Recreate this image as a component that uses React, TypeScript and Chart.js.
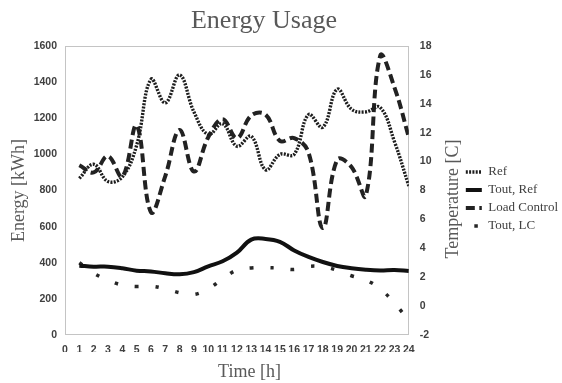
import React, { useEffect, useRef } from 'react';
import { Chart, registerables } from 'chart.js';

Chart.register(...registerables);

const hours = [1, 2, 3, 4, 5, 6, 7, 8, 9, 10, 11, 12, 13, 14, 15, 16, 17, 18, 19, 20, 21, 22, 23, 24];

const refEnergy = [867, 945, 850, 875, 1050, 1415, 1285, 1440, 1235, 1110, 1170, 1045, 1100, 915, 1000, 1000, 1220, 1150, 1360, 1250, 1235, 1260, 1070, 825];
const loadControlEnergy = [940, 900, 990, 877, 1160, 680, 880, 1135, 905, 1095, 1195, 1090, 1215, 1220, 1075, 1090, 1010, 592, 970, 930, 772, 1545, 1370, 1095];
const toutRef = [2.8, 2.73, 2.73, 2.62, 2.45, 2.4, 2.27, 2.2, 2.35, 2.75, 3.1, 3.7, 4.6, 4.65, 4.45, 3.85, 3.4, 3.05, 2.78, 2.62, 2.52, 2.47, 2.5, 2.43];
const toutLC = [3.0, 2.28, 1.8, 1.45, 1.35, 1.38, 1.2, 0.93, 0.8, 1.2, 1.87, 2.5, 2.64, 2.66, 2.62, 2.53, 2.75, 2.72, 2.48, 2.1, 1.8, 1.2, 0.2, -1.0];

const seriesLabels = ['Ref', 'Tout, Ref', 'Load Control', 'Tout, LC'];
const chartTitle = 'Energy Usage';
const xTitle = 'Time [h]';
const yTitle = 'Energy [kWh]';
const y1Title = 'Temperature [C]';

const energyRange = [0, 1600, 200];
const tempRange = [-2, 18, 2];
const hourRange = [0, 24, 1];

const SERIF = '"Liberation Serif", "Times New Roman", serif';
const SANS = '"Liberation Sans", Arial, sans-serif';

export default function App() {
  const canvasRef = useRef<HTMLCanvasElement>(null);

  useEffect(() => {
    const canvas = canvasRef.current;
    if (!canvas) return;
    const pts = (vals: number[]) => hours.map((h, i) => ({ x: h, y: vals[i] }));
    const plain = (v: any) => String(v);
    const legendDashOffsets = [0, 0, 0, 12];

    const extraText = {
      id: 'extraText',
      beforeDatasetsDraw(chart: any) {
        const { ctx, chartArea } = chart;
        ctx.save();
        ctx.strokeStyle = '#c4c4c4';
        ctx.lineWidth = 1;
        const l = Math.round(chartArea.left) + 0.5;
        const t = Math.round(chartArea.top) + 0.5;
        const r = Math.round(chartArea.right) - 0.5;
        const b = Math.round(chartArea.bottom) - 0.5;
        ctx.strokeRect(l, t, r - l, b - t);
        ctx.restore();
      },
      afterDraw(chart: any) {
        const { ctx } = chart;
        ctx.save();
        ctx.fillStyle = '#595959';
        ctx.textAlign = 'center';
        ctx.textBaseline = 'alphabetic';
        ctx.font = `26px ${SERIF}`;
        ctx.fillText(chartTitle, 264, 28);
        ctx.font = `18px ${SERIF}`;
        ctx.fillText(xTitle, 249.5, 377);
        ctx.translate(458, 199);
        ctx.rotate(-Math.PI / 2);
        ctx.fillText(y1Title, 0, 0);
        ctx.restore();
      },
    };

    const tickFont = { family: SANS, size: 10.5, weight: 'bold' };

    const chart = new Chart(canvas, {
      type: 'line',
      data: {
        datasets: [
          {
            label: seriesLabels[0],
            data: pts(refEnergy),
            yAxisID: 'y',
            borderColor: '#1e1e1e',
            borderWidth: 3.4,
            borderDash: [2, 1.3],
            tension: 0.4,
            pointRadius: 0,
            fill: false,
          },
          {
            label: seriesLabels[1],
            data: pts(toutRef),
            yAxisID: 'y1',
            borderColor: '#111111',
            borderWidth: 4,
            tension: 0.4,
            pointRadius: 0,
            fill: false,
          },
          {
            label: seriesLabels[2],
            data: pts(loadControlEnergy),
            yAxisID: 'y',
            borderColor: '#222222',
            borderWidth: 4,
            borderDash: [9, 4.5],
            tension: 0.4,
            pointRadius: 0,
            fill: false,
          },
          {
            label: seriesLabels[3],
            data: pts(toutLC),
            yAxisID: 'y1',
            borderColor: '#262626',
            borderWidth: 3.5,
            borderDash: [3.5, 17],
            tension: 0.4,
            pointRadius: 0,
            fill: false,
          },
        ] as any,
      },
      options: {
        animation: false,
        responsive: false,
        events: [],
        layout: { padding: { top: 46, bottom: 31, left: 0, right: -6 } },
        plugins: {
          title: { display: false },
          tooltip: { enabled: false },
          legend: {
            display: true,
            position: 'right',
            maxWidth: 130,
            labels: {
              usePointStyle: true,
              pointStyleWidth: 16,
              boxHeight: 13,
              padding: 5,
              color: '#404040',
              font: { family: SERIF, size: 13 },
              generateLabels: (ch: any) =>
                ch.data.datasets.map((ds: any, i: number) => ({
                  text: ds.label,
                  fillStyle: 'rgba(0,0,0,0)',
                  strokeStyle: ds.borderColor,
                  lineWidth: ds.borderWidth,
                  lineDash: ds.borderDash || [],
                  lineDashOffset: legendDashOffsets[i],
                  lineCap: 'butt',
                  pointStyle: 'line',
                  hidden: false,
                  datasetIndex: i,
                  fontColor: '#404040',
                })),
            },
          },
        },
        scales: {
          x: {
            type: 'linear',
            position: 'bottom',
            min: hourRange[0],
            max: hourRange[1],
            grid: { display: false, drawTicks: false },
            border: { display: false },
            ticks: {
              stepSize: hourRange[2],
              autoSkip: false,
              maxRotation: 0,
              minRotation: 0,
              padding: 9,
              color: '#404040',
              font: tickFont,
              callback: plain,
            },
            afterFit: (s: any) => {
              s.height = 17;
            },
          },
          y: {
            type: 'linear',
            position: 'left',
            min: energyRange[0],
            max: energyRange[1],
            grid: { display: false, drawTicks: false },
            border: { display: false },
            ticks: {
              stepSize: energyRange[2],
              padding: 8,
              color: '#404040',
              font: tickFont,
              callback: plain,
            },
            title: {
              display: true,
              text: yTitle,
              color: '#595959',
              font: { family: SERIF, size: 18 },
              padding: { top: 8.6, bottom: 0 },
            },
            afterFit: (s: any) => {
              s.width = 65;
            },
          },
          y1: {
            type: 'linear',
            position: 'right',
            min: tempRange[0],
            max: tempRange[1],
            grid: { display: false, drawTicks: false },
            border: { display: false },
            ticks: {
              stepSize: tempRange[2],
              padding: 11,
              color: '#404040',
              font: tickFont,
              callback: plain,
            },
            afterFit: (s: any) => {
              s.width = 52;
            },
          },
        },
      } as any,
      plugins: [extraText],
    });

    return () => chart.destroy();
  }, []);

  return (
    <div style={{ position: 'fixed', left: 0, top: 0, width: 562, height: 383, background: '#ffffff' }}>
      <canvas ref={canvasRef} width={562} height={383} style={{ display: 'block', width: 562, height: 383 }} />
    </div>
  );
}
